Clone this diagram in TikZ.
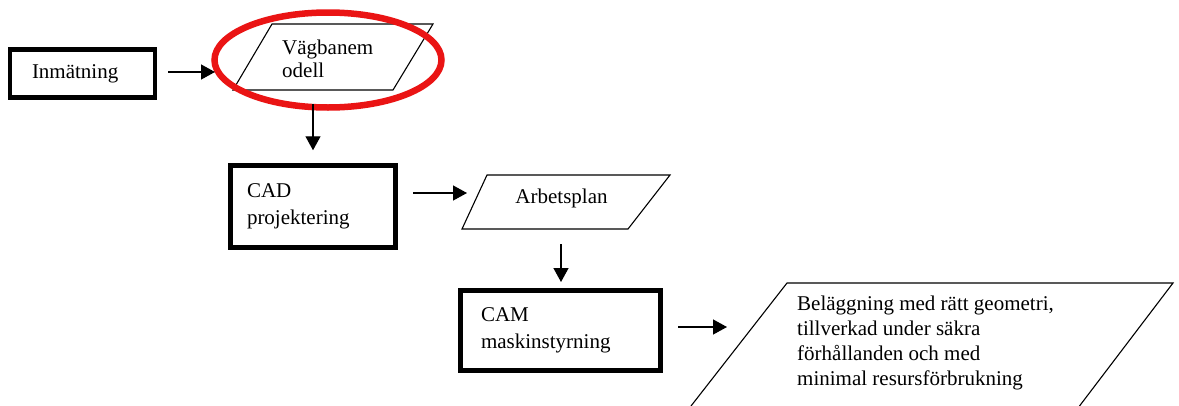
\documentclass[tikz,border=0pt]{standalone}
\usepackage{fontspec}
\setmainfont{Liberation Serif}
\usetikzlibrary{arrows.meta,shapes.geometric}
\definecolor{ringred}{RGB}{234,20,20}
\begin{document}
\begin{tikzpicture}[x=1pt,y=-1pt,
  txt/.style={font=\fontsize{21}{25}\selectfont, inner sep=0pt, align=left},
  box/.style={draw, line width=4.5pt, font=\fontsize{21}{27}\selectfont, align=left, inner sep=0pt, anchor=center},
  para/.style={line width=1.1pt, line join=miter},
  arr/.style={line width=1.3pt, -{Triangle[length=14pt,width=15pt]}},
  ring/.style={ellipse, draw=ringred, line width=6.5pt, inner sep=0pt}
]
\fill[white] (0,0) rectangle (1179,405);
\useasboundingbox (0,0) rectangle (1179,405);
\clip (0,0) rectangle (1179,405);

% Inmatning
\node[box, minimum width=145pt, minimum height=48pt, text width=101pt] (inm) at (82.5,73.5) {Inmätning};

% Vagbanemodell
\draw[para] (272,24) -- (433,24) -- (393,90) -- (233,90) -- cycle;
\node[txt, font=\fontsize{21}{23}\selectfont, anchor=west] (vag) at (282,59) {Vägbanem\\odell};
\node[ring, minimum width=227pt, minimum height=95pt] (ring) at (328,60) {};

% CAD
\node[box, minimum width=165pt, minimum height=82pt, text width=132pt] (cad) at (313,206.5) {CAD\\projektering};

% Arbetsplan
\draw[para] (487,175) -- (670,175) -- (628,229) -- (462,229) -- cycle;
\node[txt, anchor=center] (arb) at (561.5,198) {Arbetsplan};

% CAM
\node[box, minimum width=200pt, minimum height=80pt, text width=159pt] (cam) at (560.5,330.5) {CAM\\maskinstyrning};

% Result
\draw[para] (691,406) -- (787,283) -- (1173,283) -- (1079.5,406);
\node[txt, anchor=west] (res) at (797,343) {Beläggning med rätt geometri,\\tillverkad under säkra\\förhållanden och med\\minimal resursförbrukning};

% connector end points
\coordinate (ringL) at (215,72);
\coordinate (vagB) at (313,104);
\coordinate (cadR) at (413,193);
\coordinate (arbL) at (467,193);
\coordinate (arbB) at (561,244);
\coordinate (camT) at (561,282);
\coordinate (camR) at (678,327);
\coordinate (resL) at (727,327);

\draw[arr, shorten <=11pt] (inm.east |- ringL) -- (ringL);
\draw[arr, shorten >=13pt] (vagB) -- (cad.north);
\draw[arr] (cadR) -- (arbL);
\draw[arr] (arbB) -- (camT);
\draw[arr] (camR) -- (resL);
\end{tikzpicture}
\end{document}
